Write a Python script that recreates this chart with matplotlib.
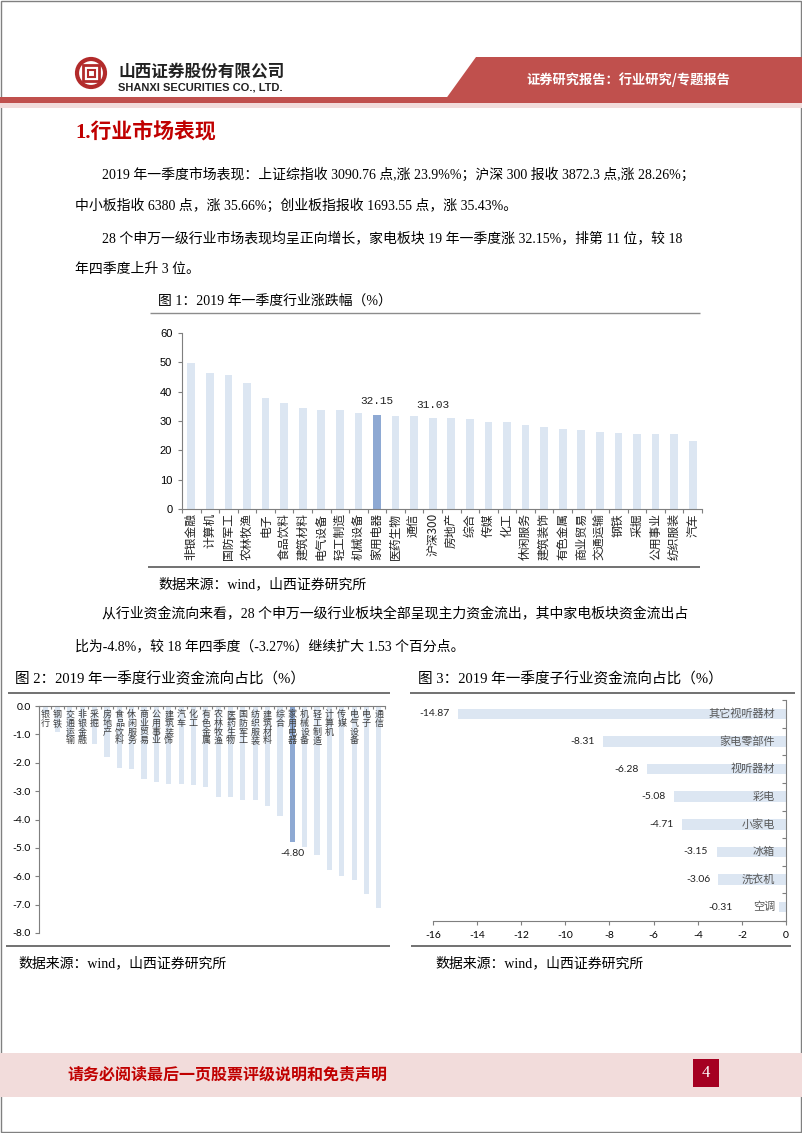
import numpy as np
import matplotlib
matplotlib.use("Agg")
import matplotlib.pyplot as plt
from matplotlib.patches import Rectangle, Polygon, Circle

plt.rcParams["axes.unicode_minus"] = False

# =====================================================
# DATA
# =====================================================

# fig 1: industry returns 2019Q1 (%)
cats1 = ["非银金融", "计算机", "国防军工", "农林牧渔", "电子", "食品饮料", "建筑材料",
         "电气设备", "轻工制造", "机械设备", "家用电器", "医药生物", "通信", "沪深300",
         "房地产", "综合", "传媒", "化工", "休闲服务", "建筑装饰", "有色金属", "商业贸易",
         "交通运输", "钢铁", "采掘", "公用事业", "纺织服装", "汽车"]
vals1 = [49.9, 46.2, 45.8, 43.1, 37.7, 36.0, 34.5, 33.9, 33.9, 32.8, 32.15, 31.6, 31.6,
         31.03, 31.0, 30.7, 29.7, 29.5, 28.8, 28.0, 27.4, 26.9, 26.1, 25.8, 25.7, 25.7,
         25.5, 23.3]
labels1 = {"家用电器": "32.15", "沪深300": "31.03"}

# fig 2: industry fund flow share (%)
cats2 = ["银行", "钢铁", "交通运输", "非银金融", "采掘", "房地产", "食品饮料", "休闲服务",
         "商业贸易", "公用事业", "建筑装饰", "汽车", "化工", "有色金属", "农林牧渔",
         "医药生物", "国防军工", "纺织服装", "建筑材料", "综合", "家用电器", "机械设备",
         "轻工制造", "计算机", "传媒", "电气设备", "电子", "通信"]
vals2 = [-0.25, -0.92, -1.1, -1.2, -1.33, -1.78, -2.17, -2.22, -2.57, -2.67, -2.74, -2.75,
         -2.8, -2.84, -3.19, -3.2, -3.3, -3.33, -3.53, -3.88, -4.80, -4.97, -5.26, -5.77,
         -5.99, -6.12, -6.63, -7.13]

# fig 3: sub-industry fund flow share (%)
cats3 = ["其它视听器材", "家电零部件", "视听器材", "彩电", "小家电", "冰箱", "洗衣机", "空调"]
vals3 = [-14.87, -8.31, -6.28, -5.08, -4.71, -3.15, -3.06, -0.31]

HIGHLIGHT = "家用电器"

# =====================================================
# STYLE
# =====================================================

W, H = 802, 1133
SERIF = ["Liberation Serif", "Noto Sans CJK SC"]
CJK = ["Noto Sans CJK SC", "DejaVu Sans"]
LIGHT = "#DCE6F2"
DARK = "#8EA9D3"
RED = "#C0504D"
AXC = "#7F7F7F"

fig = plt.figure(figsize=(W / 100, H / 100), dpi=100)

page = fig.add_axes([0, 0, 1, 1])
page.set_xlim(0, W)
page.set_ylim(H, 0)
page.axis("off")


def px_axes(x0, y0, x1, y1):
    return fig.add_axes([x0 / W, 1 - y1 / H, (x1 - x0) / W, (y1 - y0) / H])


def hline(y, x0, x1, lw=1.2, color="#595959"):
    page.plot([x0, x1], [y, y], color=color, lw=lw, solid_capstyle="butt")


# =====================================================
# PAGE FRAME, HEADER, FOOTER
# =====================================================

page.add_patch(Rectangle((0.5, 0.5), W - 1.5, H - 1.5, fill=False, ec="#808080", lw=1))

page.add_patch(Rectangle((0, 97), W, 6, color=RED, lw=0))
page.add_patch(Rectangle((0, 103), W, 5, color="#F2DCDB", lw=0))
page.add_patch(Polygon([(476, 57), (W, 57), (W, 100), (445, 100)], closed=True,
                       color=RED, lw=0))
page.text(628, 80, "证券研究报告：行业研究/专题报告", color="white", fontsize=9.5,
          fontweight="bold", family=CJK, ha="center", va="center")

# logo
page.add_patch(Circle((91, 73), 14, fill=False, ec="#B22B2B", lw=3))
page.add_patch(Rectangle((83, 65), 16, 16, fill=False, ec="#B22B2B", lw=2))
page.add_patch(Rectangle((87.5, 69.5), 7, 7, fill=False, ec="#B22B2B", lw=1.5))
page.text(118, 71, "山西证券股份有限公司", fontsize=12, fontweight="bold", family=CJK,
          va="center", color="#222222")
page.text(118, 88, "SHANXI SECURITIES CO., LTD.", fontsize=8, fontweight="bold",
          family=["Liberation Sans"], va="center", color="#222222")

page.add_patch(Rectangle((0, 1053), W, 44, color="#F2DCDB", lw=0))
page.text(67, 1074, "请务必阅读最后一页股票评级说明和免责声明", fontsize=11.5,
          fontweight="bold", color="#C00000", family=CJK, va="center")
page.add_patch(Rectangle((693, 1059), 26, 28, color="#A50021", lw=0))
page.text(706, 1073, "4", color="white", fontsize=12, family=SERIF, ha="center",
          va="center")

# =====================================================
# BODY TEXT
# =====================================================

page.text(75, 132, "1.行业市场表现", color="#C00000", fontsize=15, fontweight="bold",
          family=SERIF, va="center")

body = [
    (102, 175, "2019 年一季度市场表现：上证综指收 3090.76 点,涨 23.9%%；沪深 300 报收 3872.3 点,涨 28.26%；"),
    (75, 206, "中小板指收 6380 点，涨 35.66%；创业板指报收 1693.55 点，涨 35.43%。"),
    (102, 238, "28 个申万一级行业市场表现均呈正向增长，家电板块 19 年一季度涨 32.15%，排第 11 位，较 18"),
    (75, 269, "年四季度上升 3 位。"),
    (102, 614, "从行业资金流向来看，28 个申万一级行业板块全部呈现主力资金流出，其中家电板块资金流出占"),
    (75, 646, "比为-4.8%，较 18 年四季度（-3.27%）继续扩大 1.53 个百分点。"),
]
for x, y, s in body:
    page.text(x, y, s, fontsize=10, family=SERIF, va="center")

page.text(158, 301, "图 1：2019 年一季度行业涨跌幅（%）", fontsize=10, family=SERIF,
          va="center")
page.text(15, 679, "图 2：2019 年一季度行业资金流向占比（%）", fontsize=10.5,
          family=SERIF, va="center")
page.text(418, 679, "图 3：2019 年一季度子行业资金流向占比（%）", fontsize=10.5,
          family=SERIF, va="center")

src = "数据来源：wind，山西证券研究所"
page.text(158, 584, src, fontsize=10, family=SERIF, va="center")
page.text(18, 963, src, fontsize=10, family=SERIF, va="center")
page.text(435, 963, src, fontsize=10, family=SERIF, va="center")

hline(313, 150, 700, lw=1.0, color="#8C8C8C")
hline(567, 148, 700)
hline(693, 8, 390)
hline(693, 410, 795)
hline(946, 6, 390)
hline(946, 411, 791)

# =====================================================
# FIG 1
# =====================================================

ax1 = px_axes(182, 333, 702, 509)
x1 = np.arange(len(cats1))
ax1.bar(x1, vals1, width=0.42,
        color=[DARK if c == HIGHLIGHT else LIGHT for c in cats1])
ax1.set_xlim(-0.5, len(cats1) - 0.5)
ax1.set_ylim(0, 60)
ax1.set_yticks(range(0, 61, 10))
ax1.set_xticks(np.arange(-0.5, len(cats1), 1))
ax1.set_xticklabels([])
ax1.set_xticks(x1, minor=True)
ax1.set_xticklabels(cats1, minor=True, rotation=90, fontsize=8.5, family=CJK,
                    color="#222222")
ax1.tick_params(axis="x", which="minor", length=0, pad=3)
ax1.tick_params(axis="x", which="major", length=3, direction="out", color=AXC)
ax1.tick_params(axis="y", length=3, color=AXC, labelsize=8, pad=4)
for t in ax1.get_yticklabels():
    t.set_family("Liberation Sans")
for s in ["top", "right"]:
    ax1.spines[s].set_visible(False)
for s in ["left", "bottom"]:
    ax1.spines[s].set_color(AXC)
    ax1.spines[s].set_linewidth(0.8)
ax1.set_facecolor("none")
for i, c in enumerate(cats1):
    if c in labels1:
        ax1.annotate(labels1[c], (i, vals1[i]), xytext=(0, 6),
                     textcoords="offset points", ha="center", va="bottom",
                     fontsize=8, family="Liberation Mono", color="#222222")

# =====================================================
# FIG 2
# =====================================================

ax2 = px_axes(39, 706, 385, 933)
x2 = np.arange(len(cats2))
ax2.bar(x2, vals2, width=0.42,
        color=[DARK if c == HIGHLIGHT else LIGHT for c in cats2])
ax2.set_xlim(-0.5, len(cats2) - 0.5)
ax2.set_ylim(-8, 0)
ax2.set_yticks(range(-8, 1))
ax2.set_yticklabels([f"{v:.1f}" for v in range(-8, 1)])
ax2.xaxis.tick_top()
ax2.set_xticks(np.arange(-0.5, len(cats2), 1))
ax2.set_xticklabels([])
ax2.tick_params(axis="x", length=2.5, direction="in", color=AXC)
ax2.tick_params(axis="y", length=3, color=AXC, labelsize=7.5, pad=3)
for t in ax2.get_yticklabels():
    t.set_family("Lato")
for s in ["bottom", "right"]:
    ax2.spines[s].set_visible(False)
for s in ["left", "top"]:
    ax2.spines[s].set_color(AXC)
    ax2.spines[s].set_linewidth(0.8)
ax2.set_facecolor("none")
for i, c in enumerate(cats2):
    ax2.text(i, -0.15, "\n".join(c), ha="center", va="top", fontsize=6.5,
             linespacing=0.95, family=CJK, color="#404040")
i_hl = cats2.index(HIGHLIGHT)
ax2.annotate(f"{vals2[i_hl]:.2f}", (i_hl, vals2[i_hl]), xytext=(0, -5),
             textcoords="offset points", ha="center", va="top", fontsize=7.5,
             family="Lato", color="#222222")

# =====================================================
# FIG 3
# =====================================================

ax3 = px_axes(433, 700, 786, 921)
y3 = np.arange(len(cats3))
ax3.barh(y3, vals3, height=0.38, color=LIGHT)
ax3.set_xlim(-16, 0)
ax3.set_ylim(len(cats3) - 0.5, -0.5)
ax3.set_xticks(range(-16, 1, 2))
ax3.yaxis.tick_right()
ax3.set_yticks(np.arange(-0.5, len(cats3), 1))
ax3.set_yticklabels([])
ax3.tick_params(axis="y", length=3, direction="in", color=AXC)
ax3.tick_params(axis="x", length=3, direction="out", color=AXC, labelsize=7.5, pad=4)
for t in ax3.get_xticklabels():
    t.set_family("Lato")
for s in ["top", "left"]:
    ax3.spines[s].set_visible(False)
for s in ["right", "bottom"]:
    ax3.spines[s].set_color(AXC)
    ax3.spines[s].set_linewidth(0.8)
ax3.set_facecolor("none")
for i, (c, v) in enumerate(zip(cats3, vals3)):
    ax3.text(-0.5, i, c, ha="right", va="center", fontsize=8, family=CJK,
             color="#595959")
    # short bars: value label sits left of the category name
    ax3.annotate(f"{v:.2f}", (min(v, -2.05), i), xytext=(-6, 0),
                 textcoords="offset points", ha="right", va="center",
                 fontsize=7.5, family="Lato", color="#222222")

fig.savefig("out.png", dpi=100)
